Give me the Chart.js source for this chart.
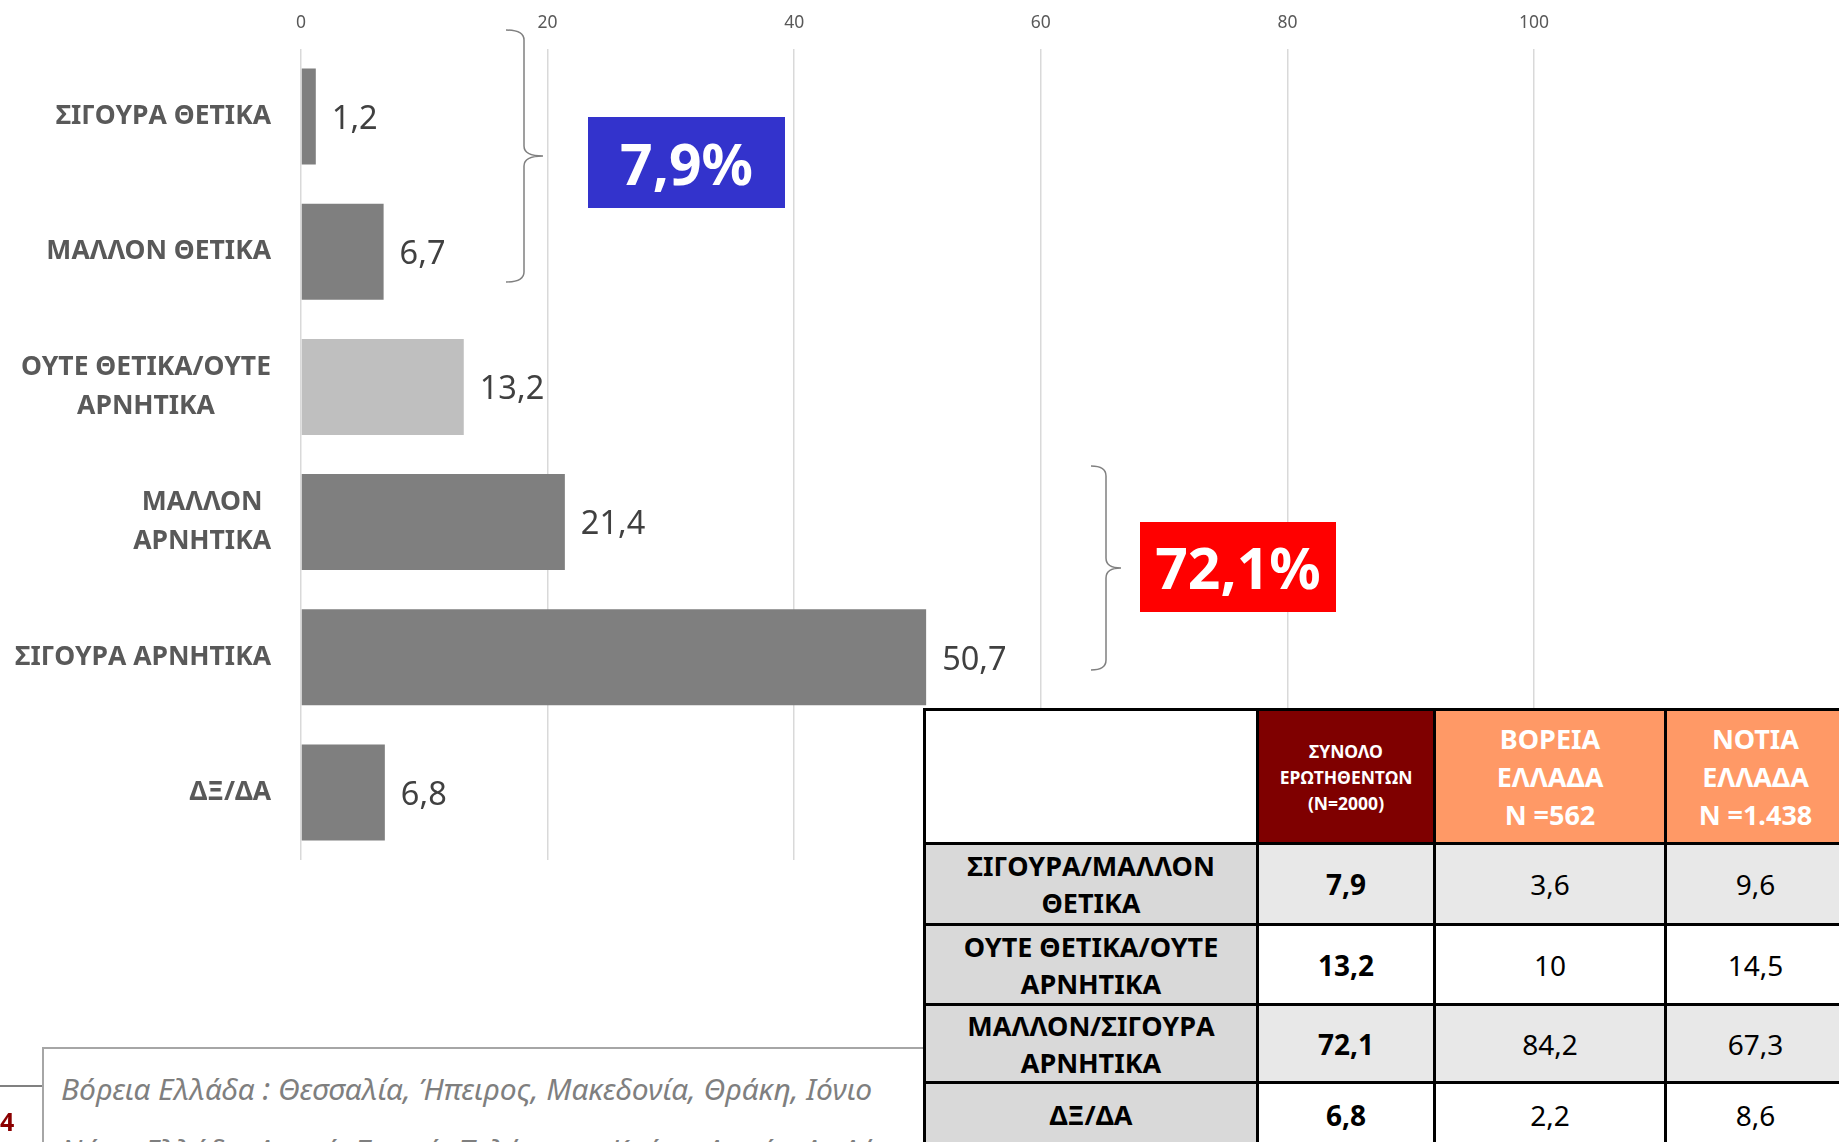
<!DOCTYPE html>
<html>
<head>
<meta charset="utf-8">
<script src="https://cdn.jsdelivr.net/npm/chart.js@4.4.1/dist/chart.umd.min.js"></script>
<style>
html,body{margin:0;padding:0;width:1839px;height:1142px;overflow:hidden;background:#fff;font-family:"Noto Sans",sans-serif;}
#c{position:absolute;left:0;top:0;}
svg{position:absolute;left:0;top:0;}
.box{position:absolute;color:#fff;font-weight:bold;display:flex;align-items:center;justify-content:center;font-size:57px;}
#tbl{position:absolute;left:923px;top:708px;width:921px;border-collapse:collapse;table-layout:fixed;z-index:5;background:#fff;}
#tbl td{border:3px solid #000;text-align:center;vertical-align:middle;padding:0;overflow:hidden;white-space:nowrap;}
#note{position:absolute;left:42px;top:1047px;width:900px;height:140px;border:2px solid #A6A6A6;box-sizing:border-box;background:#fff;z-index:2;}
#note div{position:absolute;left:17px;font-style:italic;font-size:30px;color:#7F7F7F;white-space:nowrap;}
#fline{position:absolute;left:0;top:1085px;width:42px;height:2px;background:#808080;}
#pnum{position:absolute;left:0;top:1104px;font-weight:bold;font-size:25px;color:#8B0000;}
</style>
</head>
<body>
<canvas id="c" width="1839" height="1142"></canvas>
<svg width="1839" height="1142">
  <path d="M506,30 Q524,30 524,40 L524,146 Q524,156 543,156 Q524,156 524,166 L524,272 Q524,282 506,282" fill="none" stroke="#808080" stroke-width="1.5"/>
  <path d="M1091,466 Q1106,466 1106,476 L1106,558 Q1106,568 1121,568 Q1106,568 1106,578 L1106,660 Q1106,670 1091,670" fill="none" stroke="#808080" stroke-width="1.5"/>
</svg>
<div class="box" id="box1" style="left:588px;top:117px;width:197px;height:91px;background:#3333CC;"></div>
<div class="box" id="box2" style="left:1140px;top:522px;width:196px;height:90px;background:#FF0000;"></div>
<table id="tbl"></table>
<div id="note"><div id="n1" style="top:19px;"></div><div id="n2" style="top:80px;"></div></div>
<div id="fline"></div>
<div id="pnum">4</div>
<script>
// ---- data ----
const categories = [["ΣΙΓΟΥΡΑ ΘΕΤΙΚΑ"],["ΜΑΛΛΟΝ ΘΕΤΙΚΑ"],["ΟΥΤΕ ΘΕΤΙΚΑ/ΟΥΤΕ","ΑΡΝΗΤΙΚΑ"],["ΜΑΛΛΟΝ","ΑΡΝΗΤΙΚΑ"],["ΣΙΓΟΥΡΑ ΑΡΝΗΤΙΚΑ"],["ΔΞ/ΔΑ"]];
const values = [1.2, 6.7, 13.2, 21.4, 50.7, 6.8];
const xTicks = [0, 20, 40, 60, 80, 100];
const groupTotals = ["7,9%", "72,1%"];
const tableHeaders = [["ΣΥΝΟΛΟ","ΕΡΩΤΗΘΕΝΤΩΝ","(N=2000)"],["ΒΟΡΕΙΑ","ΕΛΛΑΔΑ","Ν =562"],["ΝΟΤΙΑ","ΕΛΛΑΔΑ","Ν =1.438"]];
const tableRows = [["ΣΙΓΟΥΡΑ/ΜΑΛΛΟΝ","ΘΕΤΙΚΑ"],["ΟΥΤΕ ΘΕΤΙΚΑ/ΟΥΤΕ","ΑΡΝΗΤΙΚΑ"],["ΜΑΛΛΟΝ/ΣΙΓΟΥΡΑ","ΑΡΝΗΤΙΚΑ"],["ΔΞ/ΔΑ"]];
const tableTotal = [7.9, 13.2, 72.1, 6.8];
const tableNorth = [3.6, 10, 84.2, 2.2];
const tableSouth = [9.6, 14.5, 67.3, 8.6];
const noteLines = ["Βόρεια Ελλάδα : Θεσσαλία, Ήπειρος, Μακεδονία, Θράκη, Ιόνιο","Νότια Ελλάδα: Αττική, Στερεά, Πελ/νησος, Κρήτη, Αιγαίο, Αν.Δ/νησα"];

const fmt = v => String(v).replace('.', ',');

document.getElementById('box1').textContent = groupTotals[0];
document.getElementById('box2').textContent = groupTotals[1];
document.getElementById('n1').textContent = noteLines[0];
document.getElementById('n2').textContent = noteLines[1];

// ---- table ----
(function(){
  const t = document.getElementById('tbl');
  const widths = [333,177,231,180];
  const cg = document.createElement('colgroup');
  widths.forEach(w=>{const c=document.createElement('col');c.style.width=w+'px';cg.appendChild(c);});
  t.appendChild(cg);
  const hr = document.createElement('tr'); hr.style.height='134px';
  const h0 = document.createElement('td'); h0.style.background='#fff'; hr.appendChild(h0);
  tableHeaders.forEach((h,i)=>{
    const td=document.createElement('td');
    td.innerHTML=h.join('<br>');
    td.style.color='#fff'; td.style.fontWeight='bold';
    if(i===0){td.style.background='#7F0000';td.style.fontSize='17.5px';td.style.lineHeight='26px';}
    else{td.style.background='#FF9966';td.style.fontSize='27px';td.style.lineHeight='38px';}
    hr.appendChild(td);
  });
  t.appendChild(hr);
  const rh=[81,80,78,64];
  tableRows.forEach((r,i)=>{
    const tr=document.createElement('tr'); tr.style.height=rh[i]+'px';
    const l=document.createElement('td'); l.innerHTML=r.join('<br>');
    l.style.background='#D9D9D9'; l.style.fontWeight='bold'; l.style.fontSize='27px'; l.style.lineHeight='37px'; l.style.color='#000';
    tr.appendChild(l);
    [tableTotal[i],tableNorth[i],tableSouth[i]].forEach((v,j)=>{
      const td=document.createElement('td'); td.textContent=fmt(v);
      td.style.fontSize='28px'; td.style.color='#000';
      td.style.background = (i%2===0)?'#E8E8E8':'#FFFFFF';
      if(j===0) td.style.fontWeight='bold';
      tr.appendChild(td);
    });
    t.appendChild(tr);
  });
})();

// ---- chart ----
const labelPlugin = {
  id:'labels',
  afterDatasetsDraw(chart){
    const {ctx, chartArea, scales:{x, y}} = chart;
    ctx.save();
    ctx.font = 'bold 26.5px "Noto Sans"';
    ctx.fillStyle = '#595959';
    ctx.textAlign = 'center';
    ctx.textBaseline = 'middle';
    categories.forEach((lines,i)=>{
      const cy = y.getPixelForValue(i);
      const w = Math.max(...lines.map(s=>ctx.measureText(s).width));
      const cx = chartArea.left - 30 - w/2;
      const lh = 39;
      lines.forEach((s,k)=>{
        ctx.fillText(s, cx, cy + (k - (lines.length-1)/2)*lh);
      });
    });
    ctx.font = '32.5px "Noto Sans"';
    ctx.fillStyle = '#404040';
    ctx.textAlign = 'left';
    values.forEach((v,i)=>{
      ctx.fillText(fmt(v), x.getPixelForValue(v) + 16, y.getPixelForValue(i) + 3);
    });
    ctx.restore();
  }
};

new Chart(document.getElementById('c'), {
  type:'bar',
  data:{
    labels: categories.map(c=>c.join(' ')),
    datasets:[{
      data: values,
      backgroundColor: values.map((v,i)=> i===2 ? '#BFBFBF' : '#7F7F7F'),
      barPercentage: 0.71,
      categoryPercentage: 1.0,
      borderWidth: 0
    }]
  },
  options:{
    indexAxis:'y',
    responsive:false,
    animation:false,
    devicePixelRatio:1,
    layout:{padding:{left:0,right:305,top:0,bottom:282}},
    plugins:{legend:{display:false}, tooltip:{enabled:false}},
    scales:{
      x:{
        position:'top', min:xTicks[0], max:xTicks[xTicks.length-1],
        afterBuildTicks: s => { s.ticks = xTicks.map(v=>({value:v})); },
        ticks:{color:'#595959', font:{size:17.5, family:'Noto Sans'}, padding:15},
        grid:{color:'#D9D9D9', lineWidth:1.5, drawTicks:false},
        border:{display:false},
        afterFit: s => { s.height = 49; }
      },
      y:{
        ticks:{display:false},
        grid:{display:false},
        border:{display:false},
        afterFit: s => { s.width = 301; }
      }
    }
  },
  plugins:[labelPlugin]
});
</script>
</body>
</html>
